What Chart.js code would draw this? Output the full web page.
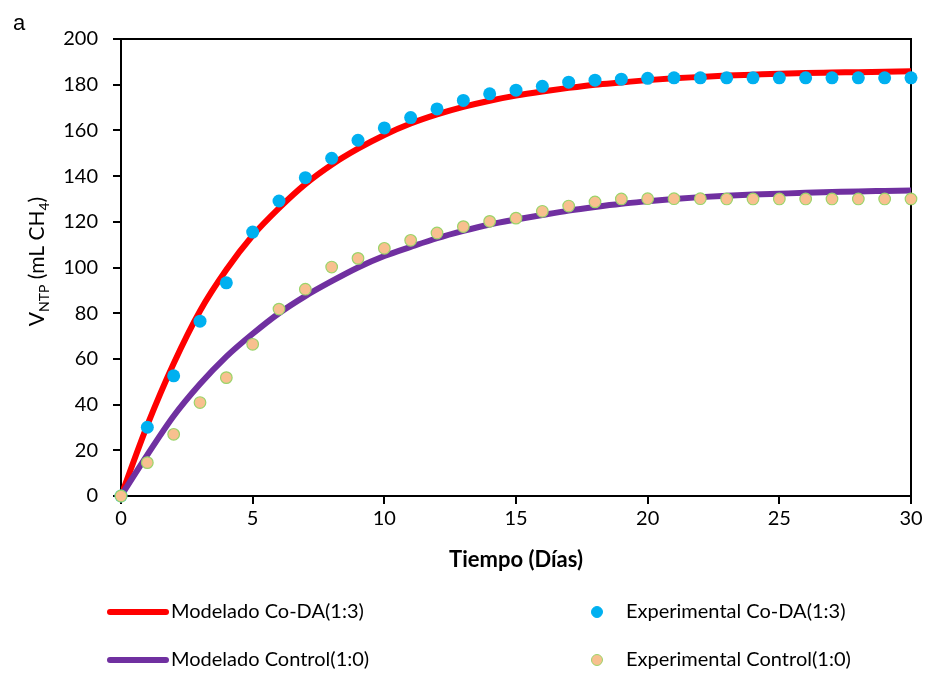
<!DOCTYPE html>
<html>
<head>
<meta charset="utf-8">
<script src="https://cdn.jsdelivr.net/npm/chart.js@4.4.1/dist/chart.umd.min.js"></script>
<style>
  html, body { margin: 0; padding: 0; background: #fff; }
  #wrap { width: 928px; height: 673px; position: relative; }
</style>
</head>
<body>
<div id="wrap"><canvas id="grafica" width="928" height="673"></canvas></div>
<script>
// dias de la prueba
const dias = [0,1,2,3,4,5,6,7,8,9,10,11,12,13,14,15,16,17,18,19,20,21,22,23,24,25,26,27,28,29,30];

// curvas del modelo
const modeladoCoDA = [0,31,58,81,99,114,126,136.5,145,152,158,163,167,170.3,173,175.2,177,178.6,180,181,182,182.8,183.4,184,184.4,184.8,185.1,185.3,185.5,185.7,185.9];
const modeladoControl = [0,18,35,49,61,71,80,87.5,94,100,105,109,112.8,116,118.8,121,123,124.9,126.5,127.9,129,130,130.8,131.4,131.9,132.3,132.7,133,133.3,133.5,133.7];

// datos experimentales
const expCoDA = [0,30.1,52.6,76.5,93.3,115.5,129.1,139.3,147.8,155.7,161.1,165.6,169.4,173.1,176.0,177.6,179.3,181.1,182.0,182.4,182.8,183,183,183,183,183,183,183,183,183,183];
const expControl = [0,14.6,27.0,40.9,51.8,66.4,81.8,90.5,100.2,104.0,108.4,111.9,115.1,117.9,120.2,121.6,124.6,126.9,128.7,130.0,130.1,130.1,130.1,130,130,130,130,130,130,130,130];

const nombres = ['Modelado Co-DA(1:3)', 'Modelado Control(1:0)', 'Experimental Co-DA(1:3)', 'Experimental Control(1:0)'];

function pares(ys) {
  return dias.map((d, i) => ({x: d, y: ys[i]}));
}

const FUENTE = 'Lato, "Open Sans", sans-serif';

// marco arriba y derecha
const marco = {
  id: 'marco',
  beforeDatasetsDraw(chart) {
    const a = chart.chartArea, ctx = chart.ctx;
    ctx.save();
    ctx.strokeStyle = '#000';
    ctx.lineWidth = 2;
    ctx.beginPath();
    ctx.moveTo(a.left, a.top);
    ctx.lineTo(a.right, a.top);
    ctx.lineTo(a.right, a.bottom);
    ctx.stroke();
    ctx.restore();
  }
};

// titulo eje y con subindices, letra "a" y leyenda 2x2
const textos = {
  id: 'textos',
  afterDraw(chart) {
    const ctx = chart.ctx, a = chart.chartArea;
    ctx.save();
    // letra a
    ctx.fillStyle = '#000';
    ctx.font = '22px "Liberation Sans", Arial, sans-serif';
    ctx.textBaseline = 'alphabetic';
    ctx.textAlign = 'left';
    ctx.fillText('a', 13, 30);

    // titulo y
    const partes = [
      {t: 'V', f: '21px ' + FUENTE, dy: 0},
      {t: 'NTP', f: '14px ' + FUENTE, dy: 5},
      {t: ' (mL CH', f: '21px ' + FUENTE, dy: 0},
      {t: '4', f: '14px ' + FUENTE, dy: 5},
      {t: ')', f: '21px ' + FUENTE, dy: 0}
    ];
    let total = 0;
    partes.forEach(p => { ctx.font = p.f; p.w = ctx.measureText(p.t).width; total += p.w; });
    ctx.translate(44, (a.top + a.bottom) / 2 - 6);
    ctx.rotate(-Math.PI / 2);
    let x = -total / 2;
    partes.forEach(p => {
      ctx.font = p.f;
      ctx.fillText(p.t, x, p.dy);
      x += p.w;
    });
    ctx.setTransform(1, 0, 0, 1, 0, 0);

    // leyenda
    const ds = chart.data.datasets;
    const filas = [612, 660];
    ctx.font = '20px ' + FUENTE;
    ctx.textBaseline = 'middle';
    for (let i = 0; i < 2; i++) {
      const y = filas[i];
      ctx.strokeStyle = ds[i].borderColor;
      ctx.lineWidth = 6;
      ctx.lineCap = 'round';
      ctx.beginPath();
      ctx.moveTo(110, y);
      ctx.lineTo(166, y);
      ctx.stroke();
      ctx.fillStyle = '#000';
      ctx.fillText(ds[i].label, 171, y);

      const p = ds[i + 2];
      ctx.beginPath();
      ctx.arc(597, y, 5.5, 0, Math.PI * 2);
      ctx.fillStyle = p.backgroundColor;
      ctx.fill();
      ctx.lineWidth = 1;
      ctx.strokeStyle = p.borderColor;
      ctx.stroke();
      ctx.fillStyle = '#000';
      ctx.fillText(p.label, 626, y);
    }
    ctx.restore();
  }
};

new Chart(document.getElementById('grafica').getContext('2d'), {
  type: 'scatter',
  data: {
    datasets: [
      {
        label: nombres[0], data: pares(modeladoCoDA), showLine: true,
        borderColor: '#FF0000', borderWidth: 6, pointRadius: 0,
        cubicInterpolationMode: 'monotone', order: 4
      },
      {
        label: nombres[1], data: pares(modeladoControl), showLine: true,
        borderColor: '#7030A0', borderWidth: 6, pointRadius: 0,
        cubicInterpolationMode: 'monotone', order: 3
      },
      {
        label: nombres[2], data: pares(expCoDA),
        backgroundColor: '#00B0F0', borderColor: '#00B0F0', borderWidth: 0,
        pointRadius: 6.5, clip: false, order: 2
      },
      {
        label: nombres[3], data: pares(expControl),
        backgroundColor: '#F8C08F', borderColor: '#9BD46A', borderWidth: 1.2,
        pointRadius: 5.8, clip: false, order: 1
      }
    ]
  },
  options: {
    responsive: false,
    animation: false,
    layout: { padding: { left: 0, right: 17, top: 39, bottom: 97 } },
    plugins: { legend: { display: false }, tooltip: { enabled: false } },
    scales: {
      x: {
        type: 'linear', min: 0, max: 30,
        ticks: { stepSize: 5, color: '#000', font: { family: FUENTE, size: 20 }, padding: 3, maxRotation: 0 },
        grid: { drawOnChartArea: false, drawTicks: true, tickLength: 8, color: '#000', lineWidth: 2 },
        border: { color: '#000', width: 2 },
        title: { display: true, text: 'Tiempo (Días)', color: '#000', font: { family: FUENTE, size: 22, weight: 'bold' }, padding: { top: 0, bottom: 3 } },
        afterFit(scale) { scale.height = 80; }
      },
      y: {
        min: 0, max: 200,
        ticks: { stepSize: 20, color: '#000', font: { family: FUENTE, size: 20 }, padding: 15 },
        grid: { drawOnChartArea: false, drawTicks: true, tickLength: 8, color: '#000', lineWidth: 2 },
        border: { color: '#000', width: 2 },
        afterFit(scale) { scale.width = 121; }
      }
    }
  },
  plugins: [marco, textos]
});
</script>
</body>
</html>
